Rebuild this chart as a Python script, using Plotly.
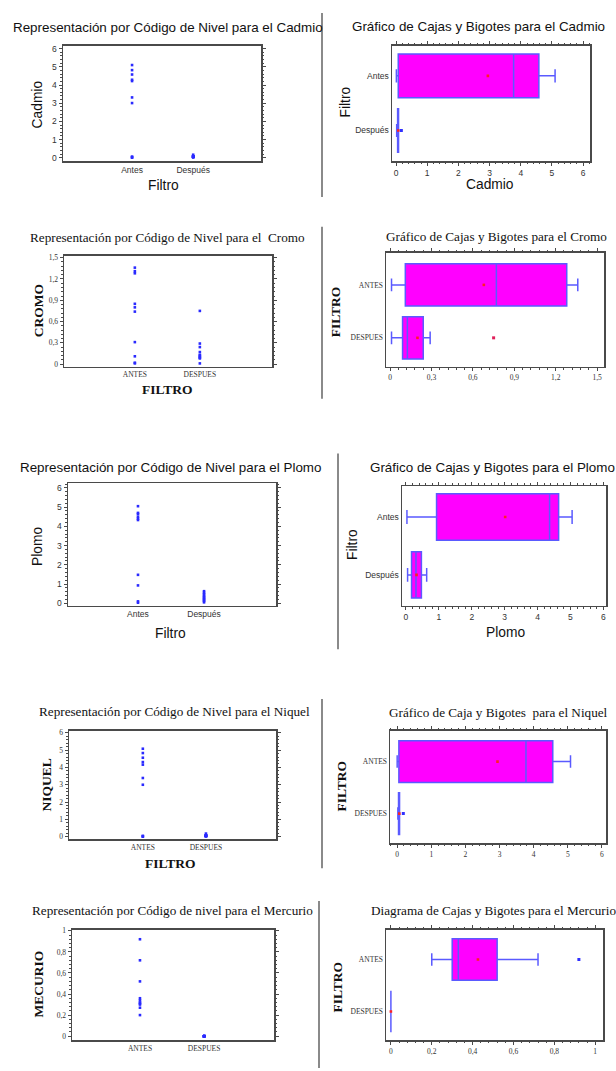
import numpy as np
import plotly.graph_objects as go

# ---------------- data ----------------
grupos_sans = ["Antes", "Después"]
grupos_serif = ["ANTES", "DESPUES"]

cadmio_antes = [0.01, 0.03, 0.07, 3.01, 3.32, 4.22, 4.29, 4.58, 4.82, 5.10]
cadmio_despues = [0.02, 0.05, 0.05, 0.06, 0.06, 0.07, 0.07, 0.08, 0.08, 0.17]

cromo_antes = [0.01, 0.02, 0.11, 0.31, 0.74, 0.80, 0.85, 1.28, 1.31, 1.36]
cromo_despues = [0.01, 0.08, 0.09, 0.10, 0.12, 0.13, 0.17, 0.24, 0.29, 0.75]

plomo_antes = [0.03, 0.10, 0.93, 1.48, 4.33, 4.40, 4.50, 4.64, 4.70, 5.05]
plomo_despues = [0.05, 0.12, 0.17, 0.22, 0.28, 0.33, 0.40, 0.47, 0.55, 0.63]

niquel_antes = [0.00, 0.02, 0.05, 3.00, 3.39, 4.16, 4.31, 4.56, 4.83, 5.08]
niquel_despues = [0.02, 0.03, 0.04, 0.05, 0.05, 0.06, 0.06, 0.07, 0.07, 0.18]

mercurio_antes = [0.20, 0.27, 0.30, 0.31, 0.32, 0.34, 0.36, 0.52, 0.72, 0.92]
mercurio_despues = [0.0, 0.0, 0.0, 0.0, 0.0, 0.0, 0.0, 0.0, 0.0, 0.0]

# ---------------- layout geometry (pixels) ----------------
W, H = 616, 1071
SANS = "Liberation Sans, Arial, sans-serif"
SERIF = "Liberation Serif, Times New Roman, serif"


def fx(px):
    return px / W


def fy(py):
    return 1 - py / H


panels = [
    dict(kind="scatter", a=cadmio_antes, d=cadmio_despues, cats=grupos_sans, font=SANS,
         frame=(63, 261, 43, 159), vrange=[-0.18, 6.16], crange=[-1.13, 2.11], dtick=1,
         title="Representación por Código de Nivel para el Cadmio", tpos=(168, 25),
         ytitle="Cadmio", ypos=(37, 102), xtitle="Filtro", xpos=(163, 184)),
    dict(kind="box", a=cadmio_antes, d=cadmio_despues, cats=grupos_sans, font=SANS,
         frame=(392, 590, 43, 159), vrange=[-0.13, 6.22], crange=[-0.56, 1.55], dtick=1,
         title="Gráfico de Cajas y Bigotes para el Cadmio", tpos=(478, 24),
         ytitle="Filtro", ypos=(345, 100), xtitle="Cadmio", xpos=(490, 183), outc="#3030ff"),
    dict(kind="scatter", a=cromo_antes, d=cromo_despues, cats=grupos_serif, font=SERIF,
         frame=(64, 272, 254, 366), vrange=[-0.04, 1.53], crange=[-1.09, 2.11], dtick=0.3,
         title="Representación por Código de Nivel para el  Cromo", tpos=(167, 236),
         ytitle="CROMO", ypos=(38, 310), xtitle="FILTRO", xpos=(167, 389)),
    dict(kind="box", a=cromo_antes, d=cromo_despues, cats=grupos_serif, font=SERIF,
         frame=(386, 604, 251, 366), vrange=[-0.03, 1.55], crange=[-0.55, 1.61], dtick=0.3,
         title="Gráfico de Cajas y Bigotes para el Cromo", tpos=(496, 235),
         ytitle="FILTRO", ypos=(335, 310), xtitle=None, xpos=None, outc="#e0205a"),
    dict(kind="scatter", a=plomo_antes, d=plomo_despues, cats=grupos_sans, font=SANS,
         frame=(68, 276, 483, 606), vrange=[-0.12, 6.24], crange=[-1.06, 2.09], dtick=1,
         title="Representación por Código de Nivel para el Plomo", tpos=(170, 467),
         ytitle="Plomo", ypos=(38, 547), xtitle="Filtro", xpos=(170, 634)),
    dict(kind="box", a=plomo_antes, d=plomo_despues, cats=grupos_sans, font=SANS,
         frame=(402, 606, 486, 606), vrange=[-0.12, 6.08], crange=[-0.53, 1.53], dtick=1,
         title="Gráfico de Cajas y Bigotes para el Plomo", tpos=(492, 467),
         ytitle="Filtro", ypos=(353, 545), xtitle="Plomo", xpos=(505, 633), outc="#3030ff"),
    dict(kind="scatter", a=niquel_antes, d=niquel_despues, cats=grupos_serif, font=SERIF,
         frame=(69, 276, 732, 841), vrange=[-0.15, 6.11], crange=[-1.17, 2.11], dtick=1,
         title="Representación por Código de Nivel para el Niquel", tpos=(174, 712),
         ytitle="NIQUEL", ypos=(47, 787), xtitle="FILTRO", xpos=(170, 865)),
    dict(kind="box", a=niquel_antes, d=niquel_despues, cats=grupos_serif, font=SERIF,
         frame=(390, 606, 732, 845), vrange=[-0.21, 6.12], crange=[-0.57, 1.59], dtick=1,
         title="Gráfico de Caja y Bigotes  para el Niquel", tpos=(498, 713),
         ytitle="FILTRO", ypos=(342, 788), xtitle=None, xpos=None, outc="#3030ff"),
    dict(kind="scatter", a=mercurio_antes, d=mercurio_despues, cats=grupos_serif, font=SERIF,
         frame=(72, 274, 932, 1043), vrange=[-0.038, 1.01], crange=[-1.06, 2.09], dtick=0.2,
         title="Representación por Código de nivel para el Mercurio", tpos=(172, 913),
         ytitle="MECURIO", ypos=(38, 987), xtitle=None, xpos=None),
    dict(kind="box", a=mercurio_antes, d=mercurio_despues, cats=grupos_serif, font=SERIF,
         frame=(386, 603, 932, 1043), vrange=[-0.024, 1.038], crange=[-0.55, 1.57], dtick=0.2,
         title="Diagrama de Cajas y Bigotes para el Mercurio", tpos=(493, 913),
         ytitle="FILTRO", ypos=(337, 990), xtitle=None, xpos=None, outc="#3030ff"),
]

fig = go.Figure()
layout = dict(
    width=W, height=H, margin=dict(l=0, r=0, t=0, b=0),
    paper_bgcolor="white", plot_bgcolor="white", showlegend=False,
    separators=", ",
)
annotations = []
FRAME = "#4a4a4a"

for i, p in enumerate(panels, start=1):
    sfx = "" if i == 1 else str(i)
    xref, yref = "x" + sfx, "y" + sfx
    l, r, t, b = p["frame"]
    serif = p["font"] == SERIF
    tickfont = dict(family=p["font"], size=7.5 if serif else 8.5, color="#333")
    value_axis = dict(
        range=p["vrange"], dtick=p["dtick"], tick0=0, showgrid=False, zeroline=False,
        showline=True, linecolor=FRAME, linewidth=1.5, mirror="allticks",
        ticks="outside", ticklen=3, tickcolor=FRAME, tickfont=tickfont,
        minor=dict(ticks="outside", ticklen=1.5, tickcolor=FRAME, dtick=p["dtick"] / 5),
        fixedrange=True,
    )
    cat_axis = dict(
        type="category", range=p["crange"], showgrid=False, zeroline=False,
        showline=True, linecolor=FRAME, linewidth=1.5, mirror=True,
        ticks="", tickfont=tickfont, fixedrange=True,
    )
    if p["kind"] == "scatter":
        xa = dict(cat_axis, categoryorder="array", categoryarray=p["cats"])
        ya = dict(value_axis)
        xs = [p["cats"][0]] * len(p["a"]) + [p["cats"][1]] * len(p["d"])
        ys = list(p["a"]) + list(p["d"])
        fig.add_trace(go.Scatter(
            x=xs, y=ys, mode="markers", xaxis=xref, yaxis=yref,
            marker=dict(color="#2a2aff", size=2.6, symbol="square", line=dict(width=0)),
            cliponaxis=False,
        ))
    else:
        xa = dict(value_axis)
        ya = dict(cat_axis, categoryorder="array", categoryarray=[p["cats"][1], p["cats"][0]])
        xs = list(p["a"]) + list(p["d"])
        ys = [p["cats"][0]] * len(p["a"]) + [p["cats"][1]] * len(p["d"])
        fig.add_trace(go.Box(
            x=xs, y=ys, orientation="h", xaxis=xref, yaxis=yref,
            quartilemethod="exclusive", boxpoints="outliers", jitter=0, pointpos=0,
            width=0.8, whiskerwidth=0.3,
            fillcolor="#ff00ff", line=dict(color="#5a5aff", width=1.5),
            marker=dict(color=p["outc"], size=3, symbol="square"),
        ))
        fig.add_trace(go.Scatter(
            x=[float(np.mean(p["a"])), float(np.mean(p["d"]))],
            y=[p["cats"][0], p["cats"][1]], mode="markers", xaxis=xref, yaxis=yref,
            marker=dict(color="#ff2020", size=2.6, symbol="square", line=dict(width=0)),
        ))
    xa["domain"] = [fx(l), fx(r)]
    ya["domain"] = [fy(b), fy(t)]
    xa["anchor"] = yref
    ya["anchor"] = xref
    layout["xaxis" + sfx] = xa
    layout["yaxis" + sfx] = ya

    tsize = 13.2 if serif else 13.4
    annotations.append(dict(
        text=p["title"], x=fx(p["tpos"][0]), y=fy(p["tpos"][1]), xref="paper", yref="paper",
        xanchor="center", yanchor="middle", showarrow=False,
        font=dict(family=p["font"], size=tsize, color="#111"),
    ))
    afont = dict(family=p["font"], size=13.5 if serif else 13.8, color="#111")
    ytxt = "<b>%s</b>" % p["ytitle"] if serif else p["ytitle"]
    annotations.append(dict(
        text=ytxt, x=fx(p["ypos"][0]), y=fy(p["ypos"][1]), xref="paper", yref="paper",
        xanchor="center", yanchor="middle", textangle=-90, showarrow=False, font=afont,
    ))
    if p["xtitle"]:
        xtxt = "<b>%s</b>" % p["xtitle"] if serif else p["xtitle"]
        annotations.append(dict(
            text=xtxt, x=fx(p["xpos"][0]), y=fy(p["xpos"][1]), xref="paper", yref="paper",
            xanchor="center", yanchor="middle", showarrow=False, font=afont,
        ))

# separator lines between the two columns (part of the original collage)
separators = [(322, 10, 195), (322, 225, 398), (338, 453, 650), (322, 700, 870), (319, 903, 1071)]
shapes = []
for sx, sy0, sy1 in separators:
    shapes.append(dict(
        type="line", xref="paper", yref="paper", x0=fx(sx), x1=fx(sx), y0=fy(sy0), y1=fy(sy1),
        line=dict(color="#8a8a8a", width=2),
    ))

layout["annotations"] = annotations
layout["shapes"] = shapes
fig.update_layout(**layout)

fig.write_html("out.html", config={"displayModeBar": False, "staticPlot": True},
               post_script="document.body.style.margin='0px';")
